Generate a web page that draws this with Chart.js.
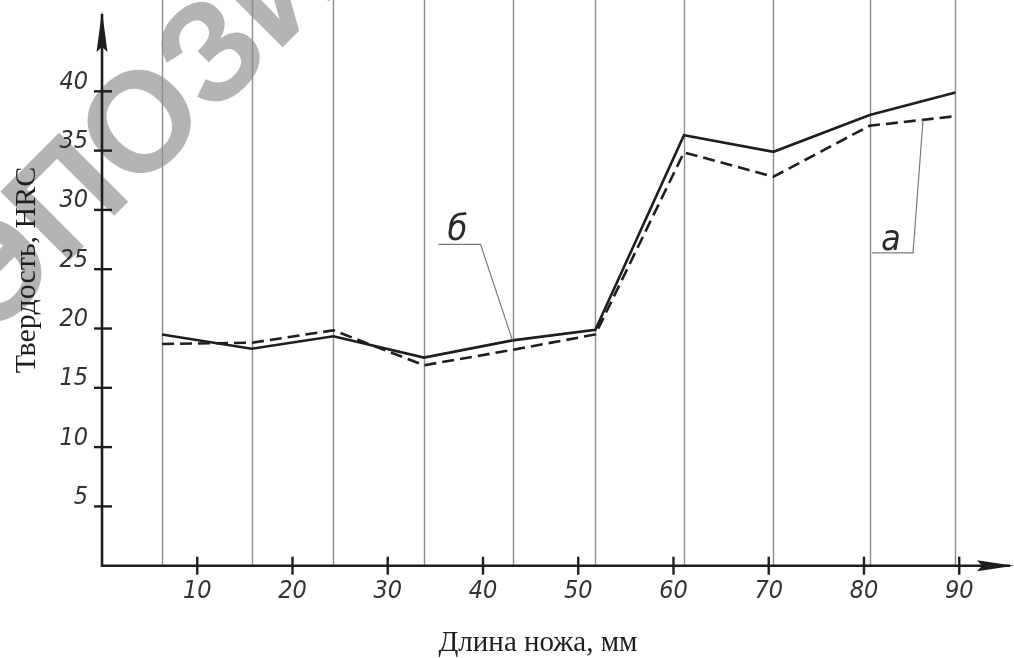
<!DOCTYPE html>
<html>
<head>
<meta charset="utf-8">
<script src="https://cdn.jsdelivr.net/npm/chart.js@4.4.1/dist/chart.umd.min.js"></script>
<style>
  html, body { margin: 0; padding: 0; background: #fff; }
  canvas { display: block; }
</style>
</head>
<body>
<canvas id="chart" width="1014" height="658"></canvas>
<script>
// knife length, mm (positions of the measuring points)
const lengths = [6.3, 15.7, 24.3, 33.8, 43.1, 51.8, 61.1, 70.5, 80.6, 89.6]
// hardness HRC, curve "б" (solid) and curve "а" (dashed)
const hardB = [19.5, 18.3, 19.35, 17.55, 19.0, 19.9, 36.3, 34.9, 38.0, 39.9]
const hardA = [18.7, 18.8, 19.85, 16.9, 18.2, 19.5, 34.85, 32.8, 37.1, 37.9]
const xTicks = [10, 20, 30, 40, 50, 60, 70, 80, 90]
const yTicks = [5, 10, 15, 20, 25, 30, 35, 40]
const xTitle = 'Длина ножа, мм'
const yTitle = 'Твердость, HRC'
const watermark = 'РЭПОЗИТОРИЙ'

const INK = '#1e1e1e'
const tickFont = { family: '"Liberation Sans Narrow", "DejaVu Sans Condensed", sans-serif', style: 'italic', size: 25 }

const drawing = {
  id: 'drawing',
  beforeDraw(chart) {
    const ctx = chart.ctx
    ctx.save()
    ctx.fillStyle = '#fff'
    ctx.fillRect(0, 0, chart.width, chart.height)
    // grey watermark across the top left
    ctx.font = 'bold 142px "Liberation Sans", sans-serif'
    ctx.fillStyle = '#b4b4b4'
    ctx.textBaseline = 'alphabetic'
    const pre = ctx.measureText(watermark.slice(0, 3)).width
    const o = ctx.measureText(watermark[3]).width
    ctx.translate(138, 120)
    ctx.rotate(-45 * Math.PI / 180)
    ctx.fillText(watermark, -pre - o / 2, 51)
    ctx.restore()
  },
  beforeDatasetsDraw(chart) {
    const { ctx, scales: { x, y } } = chart
    ctx.save()
    ctx.strokeStyle = '#8c8c8c'
    ctx.lineWidth = 1.4
    lengths.forEach(v => {
      const px = Math.round(x.getPixelForValue(v)) + 0.5
      ctx.beginPath()
      ctx.moveTo(px, 0)
      ctx.lineTo(px, y.getPixelForValue(0))
      ctx.stroke()
    })
    ctx.restore()
  },
  afterDatasetsDraw(chart) {
    const { ctx, scales: { x, y } } = chart
    const x0 = x.getPixelForValue(0)
    const y0 = y.getPixelForValue(0)
    ctx.save()
    ctx.strokeStyle = INK
    ctx.fillStyle = INK
    ctx.lineWidth = 2.6
    // axes
    ctx.beginPath()
    ctx.moveTo(x0, 14)
    ctx.lineTo(x0, y0)
    ctx.lineTo(chart.width - 4, y0)
    ctx.stroke()
    // arrows
    ctx.beginPath()
    ctx.moveTo(x0, 11)
    ctx.lineTo(x0 - 5.5, 52)
    ctx.lineTo(x0, 47)
    ctx.lineTo(x0 + 5.5, 52)
    ctx.closePath()
    ctx.fill()
    ctx.beginPath()
    ctx.moveTo(chart.width, y0)
    ctx.lineTo(chart.width - 37, y0 - 5.5)
    ctx.lineTo(chart.width - 32, y0)
    ctx.lineTo(chart.width - 37, y0 + 5.5)
    ctx.closePath()
    ctx.fill()
    // tick marks
    ctx.lineWidth = 2.4
    xTicks.forEach(v => {
      const px = x.getPixelForValue(v)
      ctx.beginPath()
      ctx.moveTo(px, y0 - 9)
      ctx.lineTo(px, y0 + 9)
      ctx.stroke()
    })
    yTicks.forEach(v => {
      const py = y.getPixelForValue(v)
      ctx.beginPath()
      ctx.moveTo(x0 - 8, py)
      ctx.lineTo(x0 + 10, py)
      ctx.stroke()
    })

    // leader lines with curve labels
    ctx.strokeStyle = '#7a7a7a'
    ctx.lineWidth = 1.2
    ctx.fillStyle = '#2a2a2a'
    ctx.font = 'italic 36px "Liberation Sans Narrow", "DejaVu Sans Condensed", sans-serif'
    ctx.textAlign = 'center'
    ctx.textBaseline = 'alphabetic'
    // "б" points at the 5th point of the solid curve
    const bx = x.getPixelForValue(lengths[4])
    const by = y.getPixelForValue(hardB[4])
    ctx.beginPath()
    ctx.moveTo(bx, by)
    ctx.lineTo(bx - 32, by - 96)
    ctx.lineTo(bx - 74, by - 96)
    ctx.stroke()
    ctx.fillText('б', bx - 55, by - 100)
    // "а" points at the dashed curve between the last two points
    const av = 86.2
    const t = (av - lengths[8]) / (lengths[9] - lengths[8])
    const ax = x.getPixelForValue(av)
    const ay = y.getPixelForValue(hardA[8] + t * (hardA[9] - hardA[8]))
    ctx.beginPath()
    ctx.moveTo(ax, ay)
    ctx.lineTo(ax - 10, ay + 133)
    ctx.lineTo(ax - 51, ay + 133)
    ctx.stroke()
    ctx.fillText('а', ax - 32, ay + 130)

    // axis titles
    ctx.fillStyle = INK
    ctx.font = '29px "Liberation Serif", "Times New Roman", serif'
    ctx.fillText(xTitle, 538, 651)
    ctx.translate(35, 270)
    ctx.rotate(-Math.PI / 2)
    ctx.font = '30px "Liberation Serif", "Times New Roman", serif'
    ctx.fillText(yTitle, 0, 0)
    ctx.restore()
  }
}

new Chart('chart', {
  type: 'line',
  data: {
    datasets: [
      {
        label: 'б',
        data: lengths.map((v, i) => ({ x: v, y: hardB[i] })),
        borderColor: INK,
        borderWidth: 2.6,
        pointRadius: 0,
        tension: 0,
        fill: false,
      },
      {
        label: 'а',
        data: lengths.map((v, i) => ({ x: v, y: hardA[i] })),
        borderColor: INK,
        borderWidth: 2.6,
        borderDash: [12, 6],
        pointRadius: 0,
        tension: 0,
        fill: false,
      },
    ],
  },
  options: {
    responsive: false,
    animation: false,
    devicePixelRatio: 1,
    layout: { padding: 0 },
    plugins: {
      legend: { display: false },
      tooltip: { enabled: false },
    },
    scales: {
      x: {
        type: 'linear',
        min: 0,
        max: 95.75,
        grid: { display: false, drawTicks: false },
        border: { display: false },
        ticks: {
          stepSize: 10,
          includeBounds: false,
          autoSkip: false,
          maxRotation: 0,
          padding: 11,
          color: '#333',
          font: tickFont,
          callback: v => (xTicks.includes(v) ? v : null),
        },
        afterFit: s => {
          s.height = 92.3
          s.paddingLeft = 0
          s.paddingRight = 0
        },
      },
      y: {
        min: 0,
        max: 47.7,
        grid: { display: false, drawTicks: false },
        border: { display: false },
        ticks: {
          stepSize: 5,
          includeBounds: false,
          autoSkip: false,
          padding: 14,
          labelOffset: -9,
          color: '#333',
          font: tickFont,
          callback: v => (yTicks.includes(v) ? v : null),
        },
        afterFit: s => {
          s.width = 102
          s.paddingTop = 0
          s.paddingBottom = 0
        },
      },
    },
  },
  plugins: [drawing],
})
</script>
</body>
</html>
